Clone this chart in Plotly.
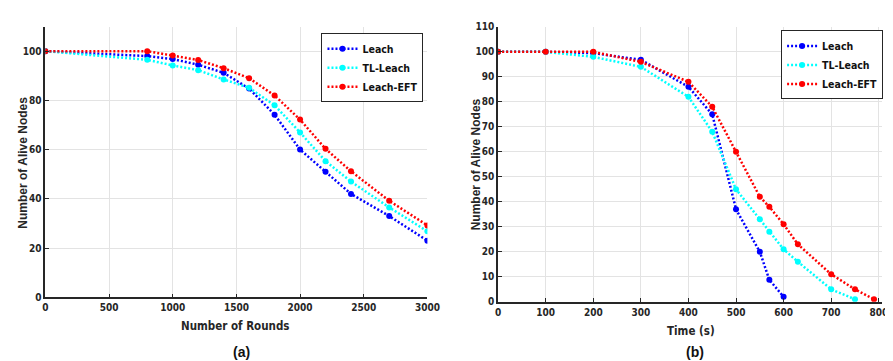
import plotly.graph_objects as go

# ---- Data: (a) Number of Rounds ----
rounds = [0, 800, 1000, 1200, 1400, 1600, 1800, 2000, 2200, 2400, 2700, 3000]
leach_a = [100, 98, 96.8, 94.5, 91.2, 84.8, 74.2, 60, 51, 42, 33, 23]
tl_leach_a = [100, 96.5, 94.2, 92.3, 88.5, 85.1, 78, 67, 55.3, 47, 36.5, 26.8]
eft_a = [100, 100, 98.2, 96.4, 93.1, 89, 82, 72.2, 60.3, 51.2, 39.2, 29.2]

# ---- Data: (b) Time (s) ----
time_leach = [0, 100, 200, 300, 400, 450, 500, 550, 570, 600]
leach_b = [100, 100, 99.5, 96.8, 86, 75, 37, 20, 8.8, 2]
time_tl = [0, 100, 200, 300, 400, 450, 500, 550, 570, 600, 630, 700, 750]
tl_leach_b = [100, 100, 98, 94, 82, 68, 45, 33, 28, 21, 16, 5, 1]
time_eft = [0, 100, 200, 300, 400, 450, 500, 550, 570, 600, 630, 700, 750, 790]
eft_b = [100, 100, 100, 96, 88, 78, 60, 42, 38, 31, 23, 11, 5, 1]

names = ["Leach", "TL-Leach", "Leach-EFT"]
colors = ["#0000FF", "#00FFFF", "#FF0000"]

W, H = 893, 361
NARROW = "DejaVu Sans Condensed, Liberation Sans Narrow, Arial Narrow, Liberation Sans, Arial"
tick_font = dict(family=NARROW, size=10, color="#262626", weight="bold")
title_font_narrow = dict(family=NARROW, size=11.5, color="#262626", weight="bold")
title_font_wide = dict(family="Liberation Sans, Arial", size=12, color="#262626", weight="bold")
legend_font = dict(family=NARROW, size=10.5, color="#111", weight="bold")

fig = go.Figure()

series_a = [(rounds, leach_a), (rounds, tl_leach_a), (rounds, eft_a)]
series_b = [(time_leach, leach_b), (time_tl, tl_leach_b), (time_eft, eft_b)]

for (xs, ys), nm, c in zip(series_a, names, colors):
    fig.add_trace(go.Scatter(x=xs, y=ys, name=nm, mode="lines+markers",
                             line=dict(color=c, width=2.5, dash="2px,2px"),
                             marker=dict(color=c, size=6, symbol="circle"),
                             xaxis="x", yaxis="y", legend="legend"))
for (xs, ys), nm, c in zip(series_b, names, colors):
    fig.add_trace(go.Scatter(x=xs, y=ys, name=nm, mode="lines+markers",
                             line=dict(color=c, width=2.5, dash="2px,2px"),
                             marker=dict(color=c, size=6, symbol="circle"),
                             xaxis="x2", yaxis="y2", legend="legend2"))

axis_common = dict(showline=True, linecolor="#262626", linewidth=1.5, ticks="inside",
                   ticklen=4, tickcolor="#262626", showgrid=True, gridcolor="#e3e3e3",
                   gridwidth=1, zeroline=False, tickfont=tick_font, mirror=False)

fig.update_layout(
    width=W, height=H,
    margin=dict(l=0, r=0, t=0, b=0),
    paper_bgcolor="white", plot_bgcolor="white",
    xaxis=dict(domain=[35 / W, 424 / W], range=[0, 3000], tickvals=[0, 500, 1000, 1500, 2000, 2500, 3000],
               anchor="y", **axis_common),
    yaxis=dict(domain=[(H - 293) / H, (H - 13) / H], range=[0, 110], tickvals=[0, 20, 40, 60, 80, 100],
               anchor="x", **axis_common),
    xaxis2=dict(domain=[496 / W, 887 / W], range=[0, 807], tickvals=list(range(0, 801, 100)),
                anchor="y2", **axis_common),
    yaxis2=dict(domain=[(H - 297.7) / H, (H - 13.3) / H], range=[0, 110], tickvals=list(range(0, 111, 10)),
                anchor="x2", **axis_common),
    legend=dict(x=420 / W, y=(H - 20) / H, xanchor="right", yanchor="top",
                bordercolor="#262626", borderwidth=1, bgcolor="white",
                font=legend_font, itemwidth=30, tracegroupgap=0),
    legend2=dict(x=888 / W, y=(H - 17) / H, xanchor="right", yanchor="top",
                 bordercolor="#262626", borderwidth=1, bgcolor="white",
                 font=legend_font, itemwidth=30, tracegroupgap=0),
    showlegend=True,
)

annots = [
    dict(text="Number of Rounds", x=229 / W, y=(H - 323) / H, font=title_font_narrow, textangle=0),
    dict(text="Time (s)", x=692 / W, y=(H - 328) / H, font=title_font_narrow, textangle=0),
    dict(text="Number of Alive Nodes", x=12 / W, y=(H - 154) / H, font=title_font_wide, textangle=-90),
    dict(text="Number of Alive Nodes", x=473 / W, y=(H - 156) / H, font=title_font_wide, textangle=-90),
    dict(text="(a)", x=235 / W, y=(H - 350) / H,
         font=dict(family="Liberation Sans, Arial", size=14, color="#111", weight="bold"), textangle=0),
    dict(text="(b)", x=696 / W, y=(H - 350) / H,
         font=dict(family="Liberation Sans, Arial", size=14, color="#111", weight="bold"), textangle=0),
]
for a in annots:
    fig.add_annotation(xref="paper", yref="paper", xanchor="center", yanchor="middle",
                       showarrow=False, borderpad=0, **a)

fig.write_html("out.html")
